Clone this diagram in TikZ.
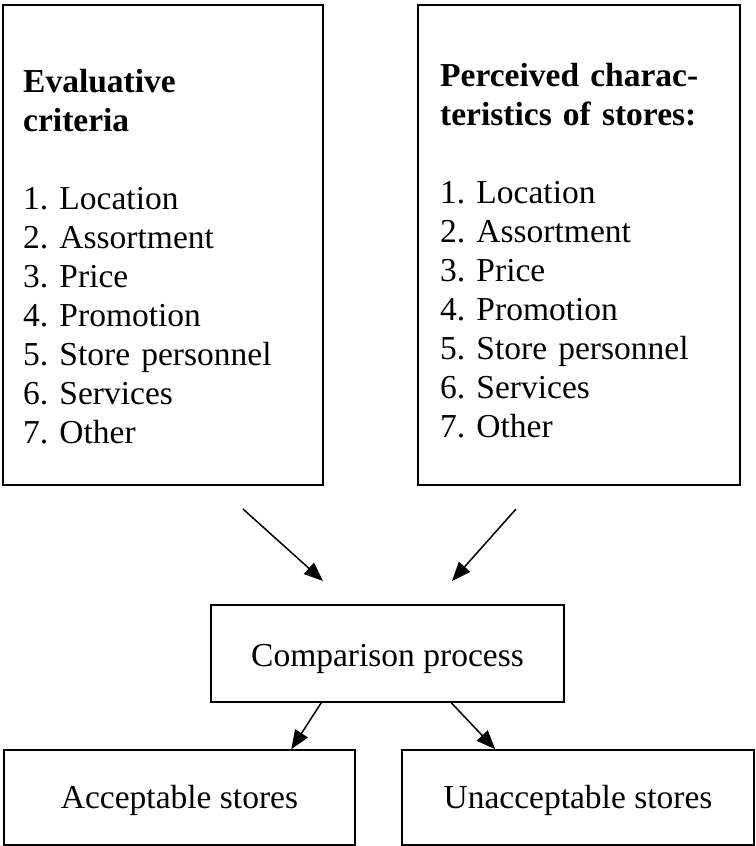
\documentclass[tikz,border=0pt]{standalone}
\usepackage{fontspec}
\setmainfont{Liberation Serif}
\usetikzlibrary{arrows.meta,calc}
\frenchspacing
\begin{document}
\begin{tikzpicture}[x=1pt,y=-1pt,
  panel/.style={draw=black, line width=1.5pt, inner sep=0pt},
  bodytext/.style={font=\fontsize{33.5}{39}\selectfont},
  listtext/.style={bodytext, anchor=base west, inner sep=0pt,
    text width=310pt, align=left},
  flow/.style={-{Triangle[length=19pt,width=15pt]}, line width=1.5pt}]
  \useasboundingbox (0,0) rectangle (755,846);

  % the two criteria panels
  \node[panel, minimum width=320pt, minimum height=480pt] (evalbox) at (163,245) {};
  \node[panel, minimum width=322pt, minimum height=480pt] (percbox) at (579,245) {};

  \node[listtext] (evaltext) at (23,92)
    {\textbf{Evaluative}\\\textbf{criteria}\\[39pt]
     1. Location\\2. Assortment\\3. Price\\4. Promotion\\
     5. Store personnel\\6. Services\\7. Other};
  \node[listtext] (perctext) at (440,86)
    {\textbf{Perceived charac-}\\\textbf{teristics of stores:}\\[39pt]
     1. Location\\2. Assortment\\3. Price\\4. Promotion\\
     5. Store personnel\\6. Services\\7. Other};

  % comparison and its two outcomes
  \node[panel, bodytext, minimum width=353pt, minimum height=97pt,
        text height=25pt, text depth=0pt] (compbox) at (387.5,653.5)
    {Comparison process};
  \node[panel, bodytext, minimum width=351pt, minimum height=95pt,
        text height=21pt, text depth=0pt] (accbox) at (179.5,797.5)
    {Acceptable stores};
  \node[panel, bodytext, minimum width=352pt, minimum height=95pt,
        text height=21pt, text depth=0pt] (unaccbox) at (578,797.5)
    {Unacceptable stores};

  % arrow end points
  \coordinate (evalout) at (243,509);
  \coordinate (evalin)  at (323,581);
  \coordinate (percout) at (516,509);
  \coordinate (percin)  at (452,581);
  \coordinate (accout)   at ($(compbox.south west)+(111,0)$);
  \coordinate (unaccout) at ($(compbox.south west)+(241,0)$);
  \coordinate (accin)    at ($(accbox.north west)+(288,0)$);
  \coordinate (unaccin)  at ($(unaccbox.north west)+(94,0)$);

  \draw[flow] (evalout) -- (evalin);
  \draw[flow] (percout) -- (percin);
  \draw[flow] (accout) -- (accin);
  \draw[flow] (unaccout) -- (unaccin);
\end{tikzpicture}
\end{document}
